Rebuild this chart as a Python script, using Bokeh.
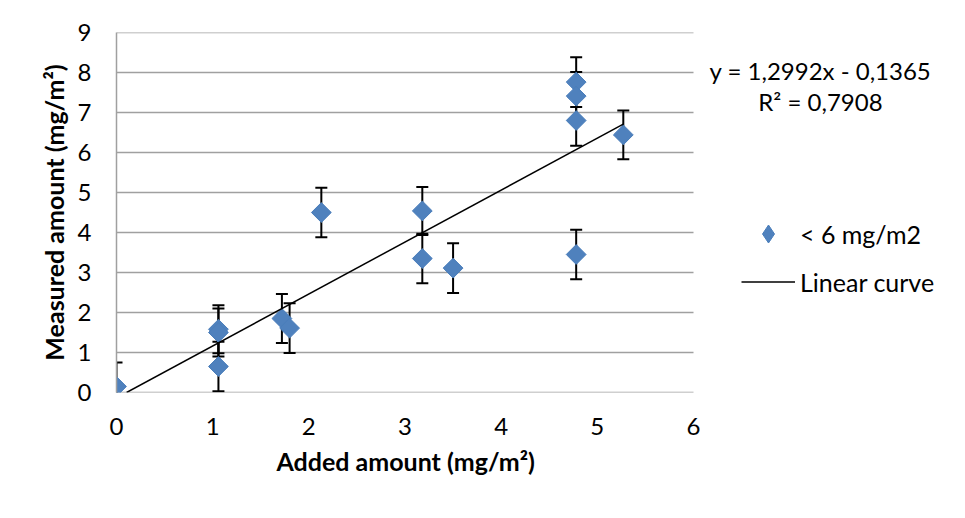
import numpy as np
from bokeh.plotting import figure
from bokeh.models import Legend, LegendItem, Label, Title, FixedTicker, ColumnDataSource
from bokeh.embed import file_html
from bokeh.resources import INLINE

# ---- data ----
added = [0.0, 1.06, 1.06, 1.06, 1.72, 1.80, 2.13, 3.18, 3.18, 3.50, 4.78, 4.78, 4.78, 4.78, 5.27]
measured = [0.15, 1.58, 1.50, 0.65, 1.85, 1.61, 4.50, 4.54, 3.35, 3.11, 3.45, 7.76, 7.41, 6.80, 6.44]
error = [0.60, 0.60, 0.60, 0.62, 0.61, 0.62, 0.62, 0.60, 0.62, 0.62, 0.62, 0.62, 0.60, 0.63, 0.61]
slope = 1.2992
intercept = -0.1365
r_squared = 0.7908
x_ticks = [0, 1, 2, 3, 4, 5, 6]
y_ticks = [0, 1, 2, 3, 4, 5, 6, 7, 8, 9]
series_name = "< 6 mg/m2"
trend_name = "Linear curve"
equation = "y = 1,2992x - 0,1365"
r2_text = "R² = 0,7908"
x_title = "Added amount (mg/m²)"
y_title = "Measured amount (mg/m²)"

FONT = "Lato"
GRID = "#a0a0a0"
BLUE = "#4F81BD"

# the frame runs from x=0 to the right edge, leaving room for legend / equation text
p = figure(width=965, height=518, output_backend="svg", toolbar_location=None,
           x_range=(0, 8.8284), y_range=(0, 9),
           min_border_left=116, min_border_right=0, min_border_top=32, min_border_bottom=126)
p.outline_line_color = None
p.background_fill_color = "white"
p.border_fill_color = "white"

p.xgrid.visible = False
p.ygrid.visible = False

p.xaxis.ticker = FixedTicker(ticks=x_ticks)
p.yaxis.ticker = FixedTicker(ticks=y_ticks)
for ax in (p.xaxis, p.yaxis):
    ax.major_tick_line_color = None
    ax.minor_tick_line_color = None
    ax.major_tick_out = 0
    ax.major_tick_in = 0
    ax.axis_line_color = GRID
    ax.axis_line_width = 1.5
    ax.major_label_text_font = FONT
    ax.major_label_text_font_size = "24px"
    ax.major_label_text_color = "black"
    ax.axis_label_text_font = FONT
    ax.axis_label_text_font_size = "25px"
    ax.axis_label_text_font_style = "bold"
    ax.axis_label_text_color = "black"
p.xaxis.axis_line_color = None
p.xaxis.major_label_standoff = 25
p.yaxis.major_label_standoff = 25
p.yaxis.axis_label = y_title
p.yaxis.axis_label_standoff = 6

# x-axis title, placed under the 0..6 data range
p.add_layout(Title(text=x_title, align="left", offset=160, standoff=13,
                   text_font=FONT, text_font_size="25px", text_font_style="bold",
                   text_color="black"), "below")

# horizontal gridlines over the data range 0..6
p.segment(x0=[min(x_ticks)] * len(y_ticks), y0=y_ticks, x1=[max(x_ticks)] * len(y_ticks), y1=y_ticks,
          line_color=GRID, line_width=1.5)

# error bars
lo = [m - e for m, e in zip(measured, error)]
hi = [m + e for m, e in zip(measured, error)]
src = ColumnDataSource(dict(x=added, y=measured, lo=lo, hi=hi))
p.segment(x0="x", y0="lo", x1="x", y1="hi", source=src, line_color="black", line_width=2)
p.scatter(x="x", y="lo", source=src, marker="dash", size=12, line_color="black", line_width=2)
p.scatter(x="x", y="hi", source=src, marker="dash", size=12, line_color="black", line_width=2)

# markers (a small diamond copy underneath serves as the legend glyph)
legend_glyph = p.scatter(x="x", y="y", source=src, marker="diamond", size=10,
                         fill_color=BLUE, line_color="#4A7EBB", line_width=1)
p.scatter(x="x", y="y", source=src, marker="square", angle=np.pi / 4, size=14,
          fill_color=BLUE, line_color="#4A7EBB", line_width=1)

# trend line
tx = [max(min(added), -intercept / slope), max(added)]
ty = [slope * v + intercept for v in tx]
tl = p.line(tx, ty, line_color="black", line_width=1.5)

legend = Legend(items=[LegendItem(label=series_name, renderers=[legend_glyph]),
                       LegendItem(label=trend_name, renderers=[tl])],
                location=(625, 88), orientation="vertical")
legend.background_fill_alpha = 0
legend.border_line_color = None
legend.padding = 0
legend.margin = 0
legend.spacing = 3
legend.glyph_width = 54
legend.glyph_height = 45
legend.label_height = 45
legend.label_standoff = 5
legend.label_text_font = FONT
legend.label_text_font_size = "25px"
legend.label_text_color = "black"
legend.label_text_baseline = "middle"
p.add_layout(legend, "center")

for txt, yy in ((equation, 8.05), (r2_text, 7.275)):
    p.add_layout(Label(x=7.32, y=yy, text=txt, text_align="center", text_baseline="middle",
                       text_font=FONT, text_font_size="24px", text_color="black"))

open("out.html", "w").write(file_html(p, INLINE))
